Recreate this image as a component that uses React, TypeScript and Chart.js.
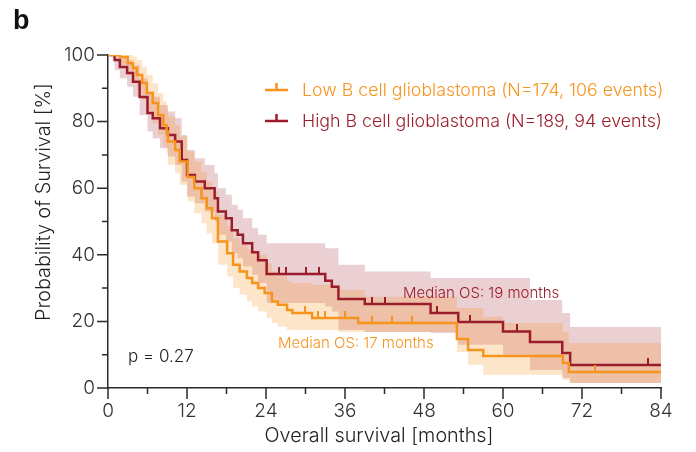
import React, { useEffect, useRef } from 'react';
import { Chart, registerables } from 'chart.js';

Chart.register(...registerables);

// ---------- data ----------
const X_MAJOR = [0, 12, 24, 36, 48, 60, 72, 84];
const X_MINOR = [6, 18, 30, 42, 54, 66, 78];
const Y_MAJOR = [0, 20, 40, 60, 80, 100];
const Y_MINOR = [10, 30, 50, 70, 90];

// Low B cell glioblastoma (orange)
const lowTimes = [0, 1.8, 3.0, 3.8, 4.4, 5.2, 5.9, 6.8, 7.6, 8.4, 8.9, 9.1, 10.2, 10.9, 12.1, 13.1, 14.2, 15.0, 15.8, 16.7, 18.1, 19.0, 20.0, 21.1, 21.9, 22.8, 23.8, 24.9, 25.8, 27.2, 28.0, 31.0, 38.0, 53.0, 54.7, 57.0, 69.1, 70.0, 84];
const lowSurv = [100, 99.4, 97.5, 96, 94, 91.6, 88.6, 85.6, 82, 79, 77, 74, 71.5, 68, 63.4, 60, 57, 54, 51, 44, 40.5, 37, 35, 33, 31.5, 30, 28.5, 26, 25, 23.4, 22.5, 21, 19.5, 14.7, 11.4, 9.6, 7.5, 4.8, 4.8];
const lowBandTimes = [0, 1.8, 3.0, 3.8, 4.4, 5.2, 5.9, 6.8, 7.6, 8.4, 8.9, 9.1, 10.2, 10.9, 12.1, 13.1, 14.2, 15.0, 15.8, 16.7, 18.1, 19.0, 20.0, 21.1, 21.9, 22.8, 24.1, 24.9, 25.8, 27.2, 28.0, 31.0, 35.0, 39.0, 53.0, 54.7, 57.0, 60.0, 69.1, 70.0, 84];
const lowUpper = [100, 100, 100, 99.5, 98.5, 96.5, 94, 91.5, 88.5, 86, 84, 81.5, 79, 75.5, 71, 68, 65, 62, 59, 52, 48.5, 45, 43, 41.5, 41, 40, 37.5, 35, 34, 32, 31.5, 31, 29.5, 27.4, 24, 24, 21.4, 19.5, 17, 13.5, 13.5];
const lowLower = [100, 97, 94, 92, 89.5, 86.5, 83, 79.5, 76, 72.5, 70.5, 67, 64.5, 61, 56, 52.5, 49.5, 46.5, 43.5, 37, 33.5, 30, 28, 26, 24.5, 23, 21, 19.5, 18.5, 17.5, 17.4, 17.4, 16.8, 16.8, 10.8, 7, 4, 4, 2.4, 1.5, 1.5];
const lowCensor = [1.1, 1.6, 29.9, 31.9, 33.0, 36.0, 40.1, 43.1, 46.2, 74.0];

// High B cell glioblastoma (dark red)
const highTimes = [0, 1.0, 1.8, 2.9, 3.8, 4.8, 6.0, 6.8, 7.9, 9.1, 10.2, 11.2, 12.0, 13.2, 14.7, 16.2, 16.7, 17.9, 18.8, 19.7, 20.5, 21.9, 22.8, 24.1, 33.0, 34.0, 35.0, 39.0, 49.0, 53.2, 60.0, 64.1, 69.0, 70.2, 84];
const highSurv = [100, 98.5, 96.4, 94.6, 92, 87.4, 82.6, 81, 78, 76, 74, 68.5, 64, 62, 60, 57, 53, 51, 47.4, 46, 43.5, 40.8, 38.4, 34.2, 32.2, 30.4, 26.7, 25.2, 22.5, 19.8, 17, 13.8, 10.5, 6.9, 6.9];
const highUpper = [100, 100, 99.5, 98.5, 97, 93, 89, 87.5, 85, 83, 81, 76, 71.5, 69, 67, 64.5, 60, 58, 55, 53.5, 51, 48, 46, 43.5, 42, 42, 37, 35, 33, 33, 33, 26.4, 22.5, 18.3, 18.3];
const highLower = [100, 95.5, 93, 90.5, 87.5, 82, 77, 75, 72, 69.5, 67, 62, 57.5, 55.5, 53, 50, 46, 44, 40.5, 39, 36.5, 34, 31.5, 25.5, 24.5, 23, 17.4, 16.8, 16.5, 13, 10, 5.4, 3, 1.5, 1.5];
const highCensor = [26.0, 27.0, 30.1, 32.0, 40.1, 42.1, 50.0, 55.0, 62.1, 82.0];

const LOW_LABEL = 'Low B cell glioblastoma (N=174, 106 events)';
const HIGH_LABEL = 'High B cell glioblastoma (N=189, 94 events)';
const LOW_MEDIAN = 'Median OS: 17 months';
const HIGH_MEDIAN = 'Median OS: 19 months';
const P_TEXT = 'p = 0.27';
const X_TITLE = 'Overall survival [months]';
const Y_TITLE = 'Probability of Survival [%]';
const PANEL = 'b';

// ---------- styles ----------
const ORANGE = '#f7941d';
const RED = '#9b1d2c';
const ORANGE_BAND = 'rgba(247,148,29,0.24)';
const RED_BAND = 'rgba(155,30,48,0.21)';
const AXIS = '#2b2b2b';
const FONT = 'Inter, Roboto, "Liberation Sans", Arial, sans-serif';

const pts = (t: number[], v: number[]) => t.map((x, i) => ({ x, y: v[i] }));
const survAt = (t: number[], v: number[], x: number) => {
  let s = v[0];
  for (let i = 0; i < t.length; i++) if (t[i] <= x) s = v[i];
  return s;
};

function tickMark(color: string) {
  const c = document.createElement('canvas');
  c.width = 2;
  c.height = 14;
  const g = c.getContext('2d')!;
  g.fillStyle = color;
  g.fillRect(0, 0, 2, 7);
  return c;
}

const drawPlugin = {
  id: 'kmDecor',
  afterDraw(chart: any) {
    const { ctx, scales } = chart;
    const xs = scales.x;
    const ys = scales.y;
    const bottom = ys.getPixelForValue(0);
    const left = xs.getPixelForValue(0);
    ctx.save();
    ctx.strokeStyle = AXIS;
    ctx.lineWidth = 1.5;
    ctx.beginPath();
    X_MAJOR.forEach((v) => {
      const p = xs.getPixelForValue(v);
      ctx.moveTo(p, bottom);
      ctx.lineTo(p, bottom + 11);
    });
    X_MINOR.forEach((v) => {
      const p = xs.getPixelForValue(v);
      ctx.moveTo(p, bottom);
      ctx.lineTo(p, bottom + 6);
    });
    Y_MAJOR.forEach((v) => {
      const p = ys.getPixelForValue(v);
      ctx.moveTo(left, p);
      ctx.lineTo(left - 11, p);
    });
    Y_MINOR.forEach((v) => {
      const p = ys.getPixelForValue(v);
      ctx.moveTo(left, p);
      ctx.lineTo(left - 6, p);
    });
    ctx.stroke();

    // axis titles
    ctx.fillStyle = '#222';
    ctx.font = `300 19.8px ${FONT}`;
    ctx.textAlign = 'center';
    ctx.textBaseline = 'middle';
    ctx.fillText(X_TITLE, 379, 436);
    ctx.save();
    ctx.translate(44, 202);
    ctx.rotate(-Math.PI / 2);
    ctx.fillText(Y_TITLE, 0, 0);
    ctx.restore();

    // panel letter
    ctx.font = `bold 27px "Liberation Sans", Arial, sans-serif`;
    ctx.textAlign = 'left';
    ctx.fillStyle = '#111';
    ctx.fillText(PANEL, 13, 22);

    // legend
    const items = [
      { label: LOW_LABEL, color: ORANGE, y: 90 },
      { label: HIGH_LABEL, color: RED, y: 121 },
    ];
    ctx.font = `300 17.8px ${FONT}`;
    items.forEach((it) => {
      ctx.strokeStyle = it.color;
      ctx.lineWidth = 2.5;
      ctx.beginPath();
      ctx.moveTo(265, it.y);
      ctx.lineTo(288, it.y);
      ctx.moveTo(276.5, it.y);
      ctx.lineTo(276.5, it.y - 7);
      ctx.stroke();
      ctx.fillStyle = it.color;
      ctx.fillText(it.label, 302, it.y + 1);
    });

    // annotations
    ctx.font = `300 15px ${FONT}`;
    ctx.fillStyle = RED;
    ctx.fillText(HIGH_MEDIAN, 403, 293);
    ctx.fillStyle = ORANGE;
    ctx.fillText(LOW_MEDIAN, 278, 343);
    ctx.font = `300 17px ${FONT}`;
    ctx.fillStyle = '#222';
    ctx.fillText(P_TEXT, 128, 357);
    ctx.restore();
  },
};

export default function App() {
  const ref = useRef<HTMLCanvasElement>(null);
  useEffect(() => {
    const lowTick = tickMark(ORANGE);
    const highTick = tickMark(RED);
    const chart = new Chart(ref.current!, {
      type: 'line',
      data: {
        datasets: [
          {
            label: 'high line', data: pts(highTimes, highSurv), stepped: true,
            borderColor: RED, borderWidth: 2.5, pointRadius: 0, fill: false, order: 1,
          },
          {
            label: 'low line', data: pts(lowTimes, lowSurv), stepped: true,
            borderColor: ORANGE, borderWidth: 2.5, pointRadius: 0, fill: false, order: 0,
          },
          {
            type: 'scatter', label: 'high censor',
            data: highCensor.map((t) => ({ x: t, y: survAt(highTimes, highSurv, t) })),
            pointStyle: highTick as any, pointRadius: 7, order: 0,
          } as any,
          {
            type: 'scatter', label: 'low censor',
            data: lowCensor.map((t) => ({ x: t, y: survAt(lowTimes, lowSurv, t) })),
            pointStyle: lowTick as any, pointRadius: 7, order: 0,
          } as any,
          {
            label: 'high upper', data: pts(highTimes, highUpper), stepped: true,
            borderWidth: 0, borderColor: 'rgba(0,0,0,0)', pointRadius: 0,
            backgroundColor: RED_BAND, fill: '+1', order: 3,
          },
          {
            label: 'high lower', data: pts(highTimes, highLower), stepped: true,
            borderWidth: 0, borderColor: 'rgba(0,0,0,0)', pointRadius: 0, fill: false, order: 3,
          },
          {
            label: 'low upper', data: pts(lowBandTimes, lowUpper), stepped: true,
            borderWidth: 0, borderColor: 'rgba(0,0,0,0)', pointRadius: 0,
            backgroundColor: ORANGE_BAND, fill: '+1', order: 2,
          },
          {
            label: 'low lower', data: pts(lowBandTimes, lowLower), stepped: true,
            borderWidth: 0, borderColor: 'rgba(0,0,0,0)', pointRadius: 0, fill: false, order: 2,
          },
        ],
      },
      options: {
        responsive: false,
        animation: false,
        devicePixelRatio: 1,
        layout: { padding: { left: 0, top: 55, right: 35, bottom: 0 } },
        plugins: { legend: { display: false }, tooltip: { enabled: false } },
        scales: {
          x: {
            type: 'linear', min: 0, max: 84,
            afterFit: (s: any) => { s.height = 64; },
            afterBuildTicks: (s: any) => { s.ticks = X_MAJOR.map((v) => ({ value: v })); },
            grid: { display: true, drawOnChartArea: false, drawTicks: true, tickLength: 11, color: 'rgba(0,0,0,0)' },
            border: { display: true, color: AXIS, width: 1.5 },
            ticks: { color: '#333', padding: 1, maxRotation: 0, autoSkip: false, font: { family: FONT, size: 19, weight: '300' as any } },
          },
          y: {
            type: 'linear', min: 0, max: 100,
            afterFit: (s: any) => { s.width = 108; },
            afterBuildTicks: (s: any) => { s.ticks = Y_MAJOR.map((v) => ({ value: v })); },
            grid: { display: true, drawOnChartArea: false, drawTicks: true, tickLength: 11, color: 'rgba(0,0,0,0)' },
            border: { display: true, color: AXIS, width: 1.5 },
            ticks: { color: '#333', padding: 2, autoSkip: false, font: { family: FONT, size: 19, weight: '300' as any } },
          },
        },
      },
      plugins: [drawPlugin],
    } as any);
    return () => chart.destroy();
  }, []);
  return (
    <div style={{ position: 'absolute', left: 0, top: 0, width: 696, height: 452, background: '#fff' }}>
      <canvas ref={ref} width={696} height={452} style={{ width: 696, height: 452 }} />
    </div>
  );
}
